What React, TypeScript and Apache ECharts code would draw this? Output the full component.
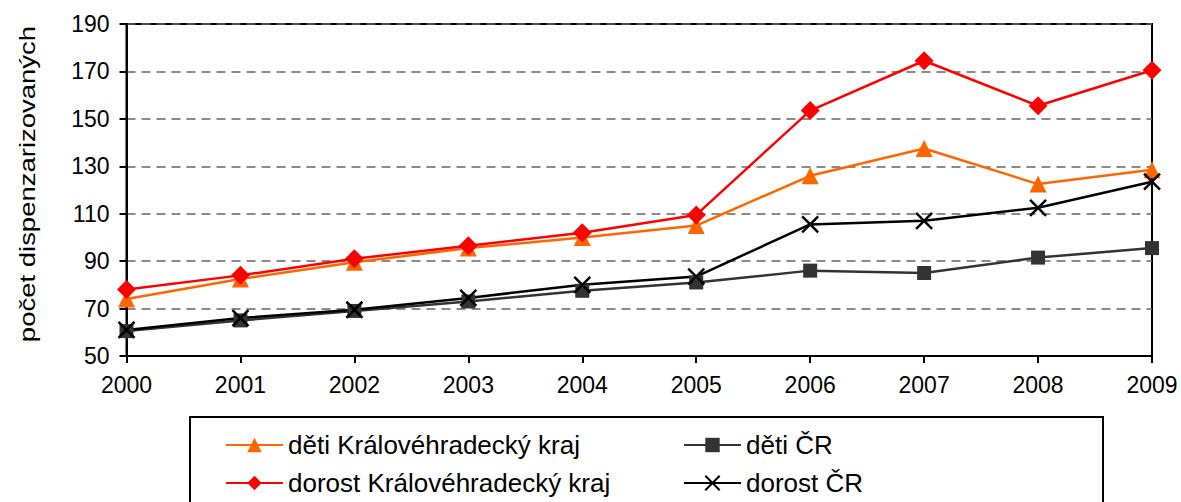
import React, { useEffect, useRef } from "react";
import * as echarts from "echarts";

const years = ["2000", "2001", "2002", "2003", "2004", "2005", "2006", "2007", "2008", "2009"];
const detiKHK = [74, 82.5, 89.5, 95.5, 100, 105, 126, 137.5, 122.5, 128.5];
const dorostKHK = [78, 84, 91, 96.5, 102, 109.5, 153.5, 174.5, 155.5, 170.5];
const detiCR = [60.5, 65, 69, 73, 77.5, 81, 86, 85, 91.5, 95.5];
const dorostCR = [61, 66, 69.5, 74.5, 80, 83.5, 105.5, 107, 112.5, 123.5];
const seriesNames = ["děti Královéhradecký kraj", "dorost Královéhradecký kraj", "děti ČR", "dorost ČR"];
const yAxisTitle = "počet dispenzarizovaných";

const FONT = "'Liberation Sans', Arial, sans-serif";

export default function App() {
  const ref = useRef<HTMLDivElement>(null);
  useEffect(() => {
    document.body.style.margin = "0";
    const chart = echarts.init(ref.current!, undefined, { renderer: "svg" });
    const crossPath = "path://M0,0L10,10M10,0L0,10";
    chart.setOption({
      animation: false,
      backgroundColor: "#fff",
      textStyle: { fontFamily: FONT },
      grid: {
        left: 126.5,
        right: 29,
        top: 24,
        bottom: 146,
        show: true,
        borderColor: "#000",
        borderWidth: 2,
        backgroundColor: "transparent",
      },
      xAxis: {
        type: "category",
        data: years,
        boundaryGap: false,
        axisLine: { lineStyle: { color: "#000", width: 2 } },
        axisTick: { show: true, length: 7, lineStyle: { color: "#000", width: 2 } },
        axisLabel: { color: "#000", fontSize: 23, margin: 17, fontFamily: FONT },
        splitLine: { show: false },
      },
      yAxis: {
        type: "value",
        min: 50,
        max: 190,
        interval: 20,
        axisLine: { show: true, lineStyle: { color: "#000", width: 2 } },
        axisTick: { show: true, length: 7, lineStyle: { color: "#000", width: 2 } },
        axisLabel: { color: "#000", fontSize: 23, margin: 17, fontFamily: FONT },
        splitLine: { show: true, lineStyle: { color: "#666", width: 1.5, type: [9, 6] } },
      },
      legend: [
        {
          data: [seriesNames[0], seriesNames[1]],
          orient: "vertical",
          left: 220,
          top: 427,
          itemWidth: 57,
          itemHeight: 18,
          itemGap: 12,
          textStyle: { color: "#000", fontSize: 26, lineHeight: 26, fontFamily: FONT },
        },
        {
          data: [seriesNames[2], seriesNames[3]],
          orient: "vertical",
          left: 678,
          top: 427,
          itemWidth: 57,
          itemHeight: 18,
          itemGap: 12,
          textStyle: { color: "#000", fontSize: 26, lineHeight: 26, fontFamily: FONT },
        },
      ],
      graphic: [
        {
          type: "rect",
          shape: { x: 190, y: 417, width: 913, height: 120 },
          style: { fill: "none", stroke: "#000", lineWidth: 2 },
          silent: true,
        },
        {
          type: "text",
          x: 27,
          y: 184,
          rotation: Math.PI / 2,
          scaleX: 1.25,
          style: {
            text: yAxisTitle,
            fontSize: 22,
            fontFamily: FONT,
            fill: "#000",
            align: "center",
            verticalAlign: "middle",
          },
          silent: true,
        },
      ],
      series: [
        {
          name: seriesNames[0],
          type: "line",
          data: detiKHK,
          symbol: "triangle",
          symbolSize: 17,
          lineStyle: { color: "#FF6600", width: 2.5 },
          itemStyle: { color: "#FF6600" },
        },
        {
          name: seriesNames[1],
          type: "line",
          data: dorostKHK,
          symbol: "diamond",
          symbolSize: 19,
          lineStyle: { color: "#FF0000", width: 2.5 },
          itemStyle: { color: "#FF0000" },
        },
        {
          name: seriesNames[2],
          type: "line",
          data: detiCR,
          symbol: "rect",
          symbolSize: 14,
          lineStyle: { color: "#333333", width: 2.5 },
          itemStyle: { color: "#333333" },
        },
        {
          name: seriesNames[3],
          type: "line",
          data: dorostCR,
          symbol: crossPath,
          symbolSize: 16,
          lineStyle: { color: "#000000", width: 2.5 },
          itemStyle: { color: "#000000", borderColor: "#000000", borderWidth: 2.5 },
        },
      ],
    });
    return () => chart.dispose();
  }, []);
  return <div ref={ref} style={{ width: 1181, height: 502 }} />;
}
